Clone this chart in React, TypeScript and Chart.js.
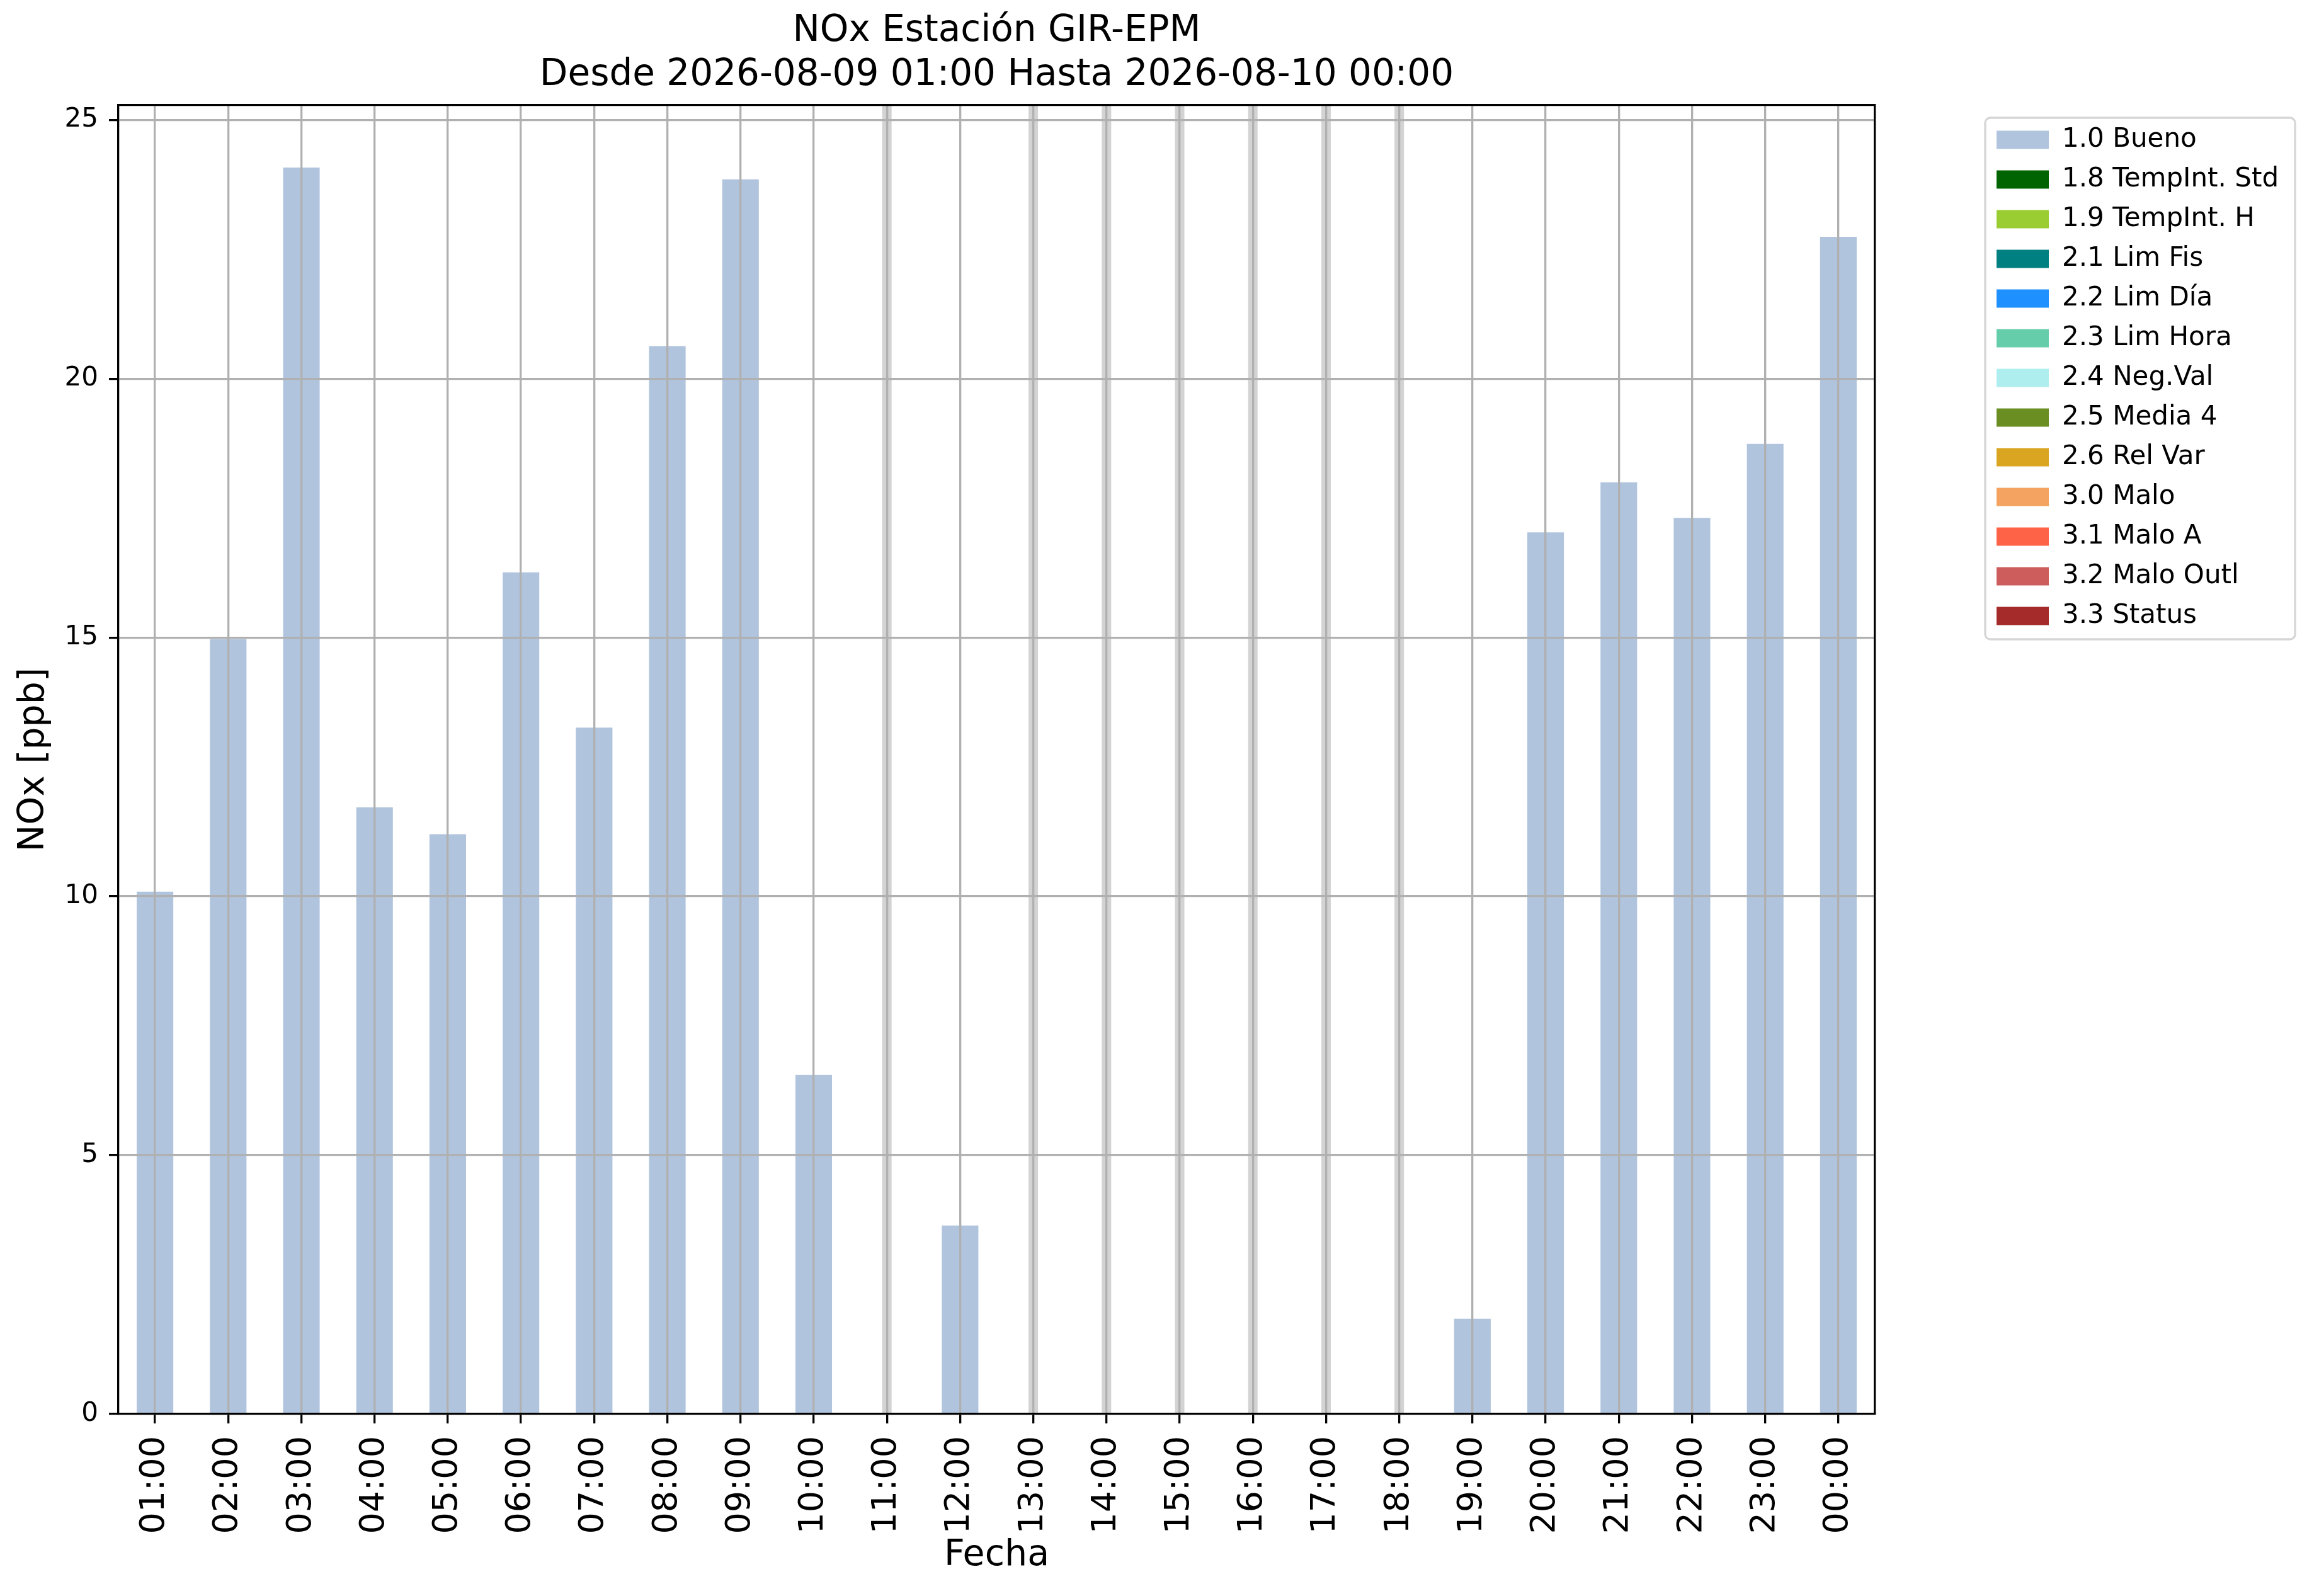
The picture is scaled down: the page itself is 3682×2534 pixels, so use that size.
import { useEffect, useRef } from 'react';
import { Chart, registerables } from 'chart.js';

Chart.register(...registerables);

const WIDTH = 3682;
const HEIGHT = 2534;
const FONT = '"DejaVu Sans", sans-serif';
const GRID = '#b0b0b0';

const hours = [
  '01:00', '02:00', '03:00', '04:00', '05:00', '06:00', '07:00', '08:00',
  '09:00', '10:00', '11:00', '12:00', '13:00', '14:00', '15:00', '16:00',
  '17:00', '18:00', '19:00', '20:00', '21:00', '22:00', '23:00', '00:00',
];

// null = hour without data
const noxValues = [
  10.09, 14.97, 24.08, 11.72, 11.2, 16.26, 13.26, 20.63,
  23.85, 6.55, null, 3.64, null, null, null, null,
  null, null, 1.84, 17.03, 18.0, 17.31, 18.74, 22.74,
];

const hourFlags = [
  '1.0 Bueno', '1.0 Bueno', '1.0 Bueno', '1.0 Bueno', '1.0 Bueno', '1.0 Bueno', '1.0 Bueno', '1.0 Bueno',
  '1.0 Bueno', '1.0 Bueno', null, '1.0 Bueno', null, null, null, null,
  null, null, '1.0 Bueno', '1.0 Bueno', '1.0 Bueno', '1.0 Bueno', '1.0 Bueno', '1.0 Bueno',
];

const flagLabels = [
  '1.0 Bueno', '1.8 TempInt. Std', '1.9 TempInt. H', '2.1 Lim Fis', '2.2 Lim Día',
  '2.3 Lim Hora', '2.4 Neg.Val', '2.5 Media 4', '2.6 Rel Var', '3.0 Malo',
  '3.1 Malo A', '3.2 Malo Outl', '3.3 Status',
];

const flagColors = [
  '#b0c4de', '#006400', '#9acd32', '#008080', '#1e90ff',
  '#66cdaa', '#afeeee', '#6b8e23', '#daa520', '#f4a460',
  '#ff6347', '#cd5c5c', '#a52a2a',
];

const titleLines = ['NOx Estación GIR-EPM', 'Desde 2026-08-09 01:00 Hasta 2026-08-10 00:00'];

// wide light lines on the hours with no data
const missingLines = {
  id: 'missingLines',
  afterDatasetsDraw(chart: any) {
    const { ctx, chartArea, scales } = chart;
    ctx.save();
    ctx.strokeStyle = '#d3d3d3';
    ctx.lineWidth = 15;
    noxValues.forEach((v, i) => {
      if (v !== null) return;
      const x = scales.x.getPixelForValue(i);
      ctx.beginPath();
      ctx.moveTo(x, chartArea.top);
      ctx.lineTo(x, chartArea.bottom);
      ctx.stroke();
    });
    ctx.restore();
  },
};

// matplotlib-like frame round the legend
const legendFrame = {
  id: 'legendFrame',
  afterDraw(chart: any) {
    const boxes = chart.legend?.legendHitBoxes;
    if (!boxes || !boxes.length) return;
    const left = Math.min(...boxes.map((b: any) => b.left)) - 18;
    const top = Math.min(...boxes.map((b: any) => b.top)) - 14;
    const right = Math.max(...boxes.map((b: any) => b.left + b.width)) + 26;
    const bottom = Math.max(...boxes.map((b: any) => b.top + b.height)) + 16;
    const { ctx } = chart;
    ctx.save();
    ctx.strokeStyle = '#d6d6d6';
    ctx.lineWidth = 3.3;
    ctx.beginPath();
    ctx.roundRect(left, top, right - left, bottom - top, 8);
    ctx.stroke();
    ctx.restore();
  },
};

export default function App() {
  const canvasRef = useRef<HTMLCanvasElement>(null);

  useEffect(() => {
    if (!canvasRef.current) return;

    const values = noxValues.filter((v) => v !== null) as number[];
    const yMax = Math.max(...values) * 1.05;

    const datasets = flagLabels.map((label, i) => ({
      label,
      data: noxValues.map((v, h) => (hourFlags[h] === label ? v : null)),
      backgroundColor: flagColors[i],
      borderWidth: 0,
      barPercentage: 0.5,
      categoryPercentage: 1.0,
    }));

    const spine = { color: '#000', width: 3.3, z: 2 };

    const chart = new Chart(canvasRef.current, {
      type: 'bar',
      data: { labels: hours, datasets },
      options: {
        animation: false,
        responsive: false,
        devicePixelRatio: 1,
        layout: { padding: { left: 0, top: 0, right: 63, bottom: 0 } },
        plugins: {
          title: {
            display: true,
            text: titleLines,
            fullSize: false,
            color: '#000',
            font: { family: FONT, size: 58, weight: 'normal', lineHeight: 1.2 },
            padding: { top: 15.2, bottom: 0 },
          },
          legend: {
            position: 'right',
            align: 'start',
            fullSize: false,
            maxWidth: 470,
            title: { display: true, text: '', font: { size: 10.83 }, padding: 0 },
            labels: {
              boxWidth: 83,
              boxHeight: 29,
              padding: 21,
              color: '#000',
              font: { family: FONT, size: 42 },
            },
          },
          tooltip: { enabled: false },
        },
        scales: {
          x: {
            stacked: true,
            offset: true,
            grid: { offset: false, color: GRID, lineWidth: 3.3, tickColor: '#000', tickWidth: 3.3, tickLength: 15, z: 1 },
            border: spine,
            ticks: {
              color: '#000',
              font: { family: FONT, size: 54 },
              minRotation: 90,
              maxRotation: 90,
              autoSkip: false,
              padding: 20,
            },
            title: {
              display: true,
              text: 'Fecha',
              color: '#000',
              font: { family: FONT, size: 57 },
              padding: { top: 0, bottom: 30 },
            },
            afterFit: (scale: any) => {
              scale.height = 289;
            },
          },
          xTop: {
            type: 'category',
            position: 'top',
            grid: { display: false },
            ticks: { display: false },
            border: spine,
            afterFit: (scale: any) => {
              scale.height = 12.6;
            },
          },
          y: {
            stacked: true,
            min: 0,
            max: yMax,
            grid: { color: GRID, lineWidth: 3.3, tickColor: '#000', tickWidth: 3.3, tickLength: 15, z: 1 },
            border: spine,
            ticks: {
              stepSize: 5,
              includeBounds: false,
              color: '#000',
              font: { family: FONT, size: 42 },
              padding: 17,
            },
            title: {
              display: true,
              text: 'NOx [ppb]',
              color: '#000',
              font: { family: FONT, size: 57 },
              padding: { top: 20, bottom: 0 },
            },
            afterFit: (scale: any) => {
              scale.width = 188;
            },
          },
          yRight: {
            type: 'linear',
            position: 'right',
            grid: { display: false },
            ticks: { display: false },
            border: spine,
            afterFit: (scale: any) => {
              scale.width = 172;
            },
          },
        },
      },
      plugins: [missingLines, legendFrame],
    } as any);

    return () => chart.destroy();
  }, []);

  return (
    <div style={{ position: 'fixed', left: 0, top: 0, width: WIDTH, height: HEIGHT, background: '#fff' }}>
      <canvas ref={canvasRef} width={WIDTH} height={HEIGHT}></canvas>
    </div>
  );
}
